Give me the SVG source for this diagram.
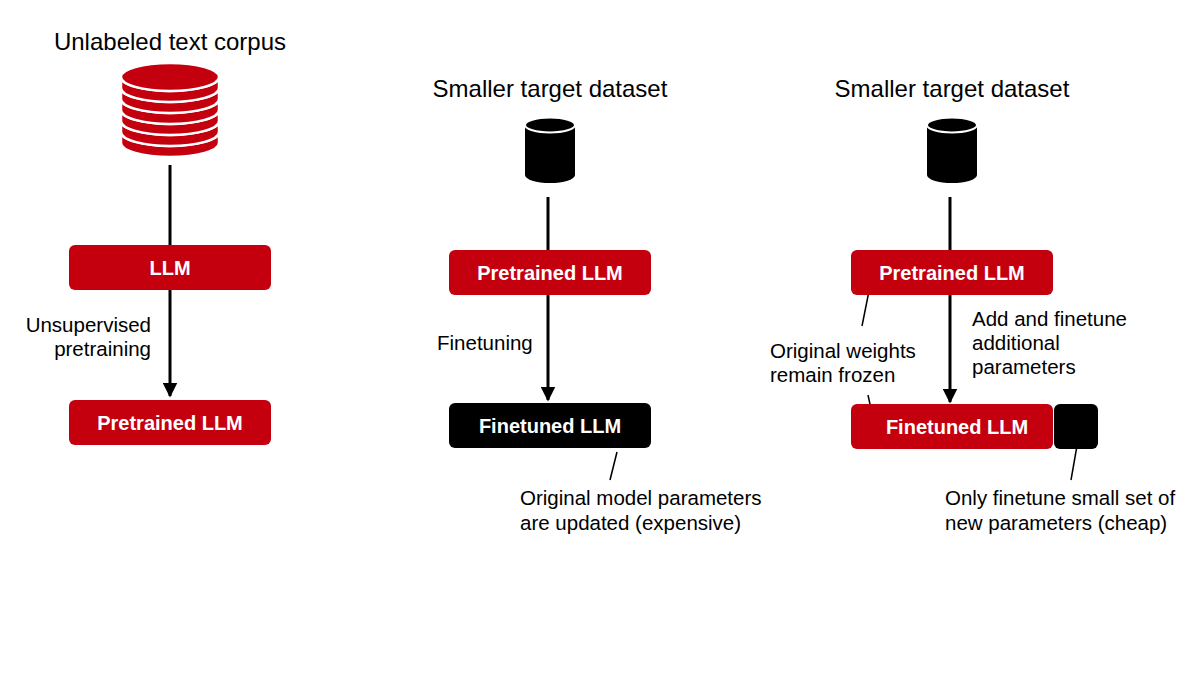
<svg xmlns="http://www.w3.org/2000/svg" width="1200" height="675" viewBox="0 0 1200 675">
<style>
text{font-family:"Liberation Sans",Arial,sans-serif;fill:#000}
.t{font-size:24px;text-anchor:middle}
.l{font-size:20.5px}
.b{font-size:20px;font-weight:bold;fill:#fff;text-anchor:middle}
.red{fill:#c4000f}
.ln{stroke:#000;stroke-width:3;fill:none}
.th{stroke:#000;stroke-width:1.5;fill:none}
.disk{fill:#c4000f;stroke:#fff;stroke-width:2.5}
</style>
<defs>
<marker id="ah" viewBox="0 0 10 10" refX="9" refY="5" markerWidth="5" markerHeight="5" orient="auto"><path d="M0,0L10,5L0,10Z" fill="#000"/></marker>
</defs>
<rect width="1200" height="675" fill="#fff"/>
<g id="corpus">
<text class="t" x="170" y="50">Unlabeled text corpus</text>
<path class="disk" d="M121,132v11a49,14 0 0 0 98,0v-11a49,14 0 0 1 -98,0z"/>
<path class="disk" d="M121,121v11a49,14 0 0 0 98,0v-11a49,14 0 0 1 -98,0z"/>
<path class="disk" d="M121,110v11a49,14 0 0 0 98,0v-11a49,14 0 0 1 -98,0z"/>
<path class="disk" d="M121,99v11a49,14 0 0 0 98,0v-11a49,14 0 0 1 -98,0z"/>
<path class="disk" d="M121,88v11a49,14 0 0 0 98,0v-11a49,14 0 0 1 -98,0z"/>
<path class="disk" d="M121,77v11a49,14 0 0 0 98,0v-11a49,14 0 0 1 -98,0z"/>
<ellipse class="disk" cx="170" cy="77" rx="49" ry="14"/>
</g>
<g id="ds2">
<text class="t" x="550" y="97">Smaller target dataset</text>
<path d="M525,125v50a25,8 0 0 0 50,0v-50z" fill="#000"/>
<ellipse cx="550" cy="125" rx="25" ry="7.5" fill="#000" stroke="#fff" stroke-width="2"/>
</g>
<g id="ds3">
<text class="t" x="952" y="97">Smaller target dataset</text>
<path d="M927,125v50a25,8 0 0 0 50,0v-50z" fill="#000"/>
<ellipse cx="952" cy="125" rx="25" ry="7.5" fill="#000" stroke="#fff" stroke-width="2"/>
</g>
<g id="connectors">
<line class="ln" x1="170" y1="165" x2="170" y2="245"/>
<line class="ln" x1="170" y1="290" x2="170" y2="396" marker-end="url(#ah)"/>
<line class="ln" x1="548" y1="197" x2="548" y2="250"/>
<line class="ln" x1="548" y1="295" x2="548" y2="400" marker-end="url(#ah)"/>
<line class="ln" x1="950" y1="197" x2="950" y2="250"/>
<line class="ln" x1="950" y1="295" x2="950" y2="402" marker-end="url(#ah)"/>
<line class="th" x1="617" y1="452" x2="610" y2="480"/>
<line class="th" x1="870" y1="286" x2="862" y2="326"/>
<line class="th" x1="868" y1="395" x2="873" y2="418"/>
<line class="th" x1="1078" y1="440" x2="1071" y2="480"/>
</g>
<g id="llm1"><rect class="red" x="69" y="245" width="202" height="45" rx="6"/><text class="b" x="170" y="275">LLM</text></g>
<g id="pre1"><rect class="red" x="69" y="400" width="202" height="45" rx="6"/><text class="b" x="170" y="430">Pretrained LLM</text></g>
<g id="pre2"><rect class="red" x="449" y="250" width="202" height="45" rx="6"/><text class="b" x="550" y="280">Pretrained LLM</text></g>
<g id="fine2"><rect x="449" y="403" width="202" height="45" rx="6" fill="#000"/><text class="b" x="550" y="433">Finetuned LLM</text></g>
<g id="pre3"><rect class="red" x="851" y="250" width="202" height="45" rx="6"/><text class="b" x="952" y="280">Pretrained LLM</text></g>
<g id="fine3"><rect class="red" x="851" y="404" width="202" height="45" rx="6"/><text class="b" x="957" y="434">Finetuned LLM</text></g>
<g id="newparams"><rect x="1054" y="404" width="44" height="45" rx="6" fill="#000"/></g>
<g id="labels">
<text class="l" x="151" y="332" text-anchor="end">Unsupervised</text>
<text class="l" x="151" y="356" text-anchor="end">pretraining</text>
<text class="l" x="437" y="350">Finetuning</text>
<text class="l" x="520" y="505">Original model parameters</text>
<text class="l" x="520" y="530">are updated (expensive)</text>
<text class="l" x="972" y="326">Add and finetune</text>
<text class="l" x="972" y="350">additional</text>
<text class="l" x="972" y="374">parameters</text>
<text class="l" x="770" y="358">Original weights</text>
<text class="l" x="770" y="382">remain frozen</text>
<text class="l" x="945" y="505">Only finetune small set of</text>
<text class="l" x="945" y="530">new parameters (cheap)</text>
</g>
</svg>
